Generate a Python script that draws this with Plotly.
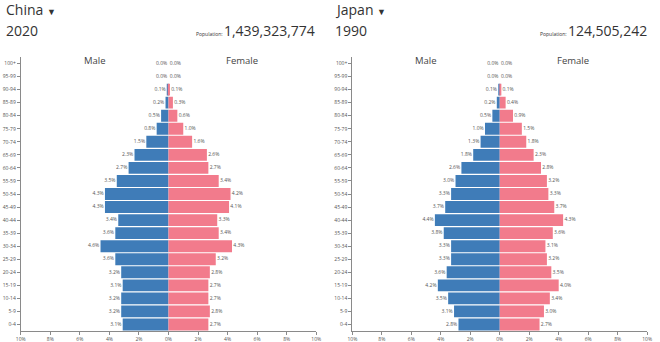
import plotly.graph_objects as go

# Age groups, youngest first (bottom of the pyramid)
age_groups = ["0-4", "5-9", "10-14", "15-19", "20-24", "25-29", "30-34", "35-39",
              "40-44", "45-49", "50-54", "55-59", "60-64", "65-69", "70-74",
              "75-79", "80-84", "85-89", "90-94", "95-99", "100+"]

# China 2020, share of total population (%)
china_male = [3.1, 3.2, 3.2, 3.1, 3.2, 3.6, 4.6, 3.6, 3.4, 4.3, 4.3, 3.5, 2.7, 2.3,
              1.5, 0.8, 0.5, 0.2, 0.1, 0.0, 0.0]
china_female = [2.7, 2.8, 2.7, 2.7, 2.8, 3.2, 4.3, 3.4, 3.3, 4.1, 4.2, 3.4, 2.7, 2.6,
                1.6, 1.0, 0.6, 0.3, 0.1, 0.0, 0.0]

# Japan 1990, share of total population (%)
japan_male = [2.8, 3.1, 3.5, 4.2, 3.6, 3.3, 3.3, 3.8, 4.4, 3.7, 3.3, 3.0, 2.6, 1.8,
              1.3, 1.0, 0.5, 0.2, 0.1, 0.0, 0.0]
japan_female = [2.7, 3.0, 3.4, 4.0, 3.5, 3.2, 3.1, 3.6, 4.3, 3.7, 3.3, 3.2, 2.8, 2.3,
                1.8, 1.5, 0.9, 0.4, 0.1, 0.0, 0.0]

panels = [
    {"country": "China", "year": "2020", "population": "1,439,323,774",
     "male": china_male, "female": china_female},
    {"country": "Japan", "year": "1990", "population": "124,505,242",
     "male": japan_male, "female": japan_female},
]

tick_vals = [-10, -8, -6, -4, -2, 0, 2, 4, 6, 8, 10]
tick_text = [f"{abs(v)}%" for v in tick_vals]

W, H = 660, 342
FONT = "Open Sans, Noto Sans, sans-serif"
TEXT = "#333333"
AXIS = "#8a8a8a"
MALE_C = "#3f7cb8"
FEMALE_C = "#f27b8c"
NBSP = "\u00a0"

# pixel placement of the two plot areas
x_domains = [(16 / W, 316 / W), (352.7 / W, 652 / W)]
y_domain = ((H - 331) / H, (H - 57) / H)


def py(px):
    return 1 - px / H


fig = go.Figure()
annotations = []

for i, p in enumerate(panels):
    xa = "x" if i == 0 else "x2"
    ya = "y" if i == 0 else "y2"
    neg_male = [-v for v in p["male"]]

    fig.add_trace(go.Bar(y=age_groups, x=neg_male, orientation="h",
                         marker=dict(color=MALE_C, line=dict(width=0)),
                         xaxis=xa, yaxis=ya, hoverinfo="skip"))
    fig.add_trace(go.Bar(y=age_groups, x=p["female"], orientation="h",
                         marker=dict(color=FEMALE_C, line=dict(width=0)),
                         xaxis=xa, yaxis=ya, hoverinfo="skip"))
    # value labels beside each bar end
    fig.add_trace(go.Scatter(y=age_groups, x=neg_male, mode="text",
                             text=[f"{v:.1f}%{NBSP}" for v in p["male"]],
                             textposition="middle left",
                             textfont=dict(size=5, color="#555555", family=FONT),
                             xaxis=xa, yaxis=ya, hoverinfo="skip"))
    fig.add_trace(go.Scatter(y=age_groups, x=p["female"], mode="text",
                             text=[f"{NBSP}{v:.1f}%" for v in p["female"]],
                             textposition="middle right",
                             textfont=dict(size=5, color="#555555", family=FONT),
                             xaxis=xa, yaxis=ya, hoverinfo="skip"))

    x_left = (-1 if i == 0 else 333) / W
    x_right = (317 if i == 0 else 654) / W
    annotations += [
        dict(text=f"{p['country']} <span style='font-size:9px'>▼</span>",
             xref="paper", yref="paper", x=x_left, y=py(10),
             xanchor="left", yanchor="middle", showarrow=False,
             font=dict(size=14, color=TEXT, family=FONT)),
        dict(text=p["year"], xref="paper", yref="paper", x=x_left, y=py(30),
             xanchor="left", yanchor="middle", showarrow=False,
             font=dict(size=14, color=TEXT, family=FONT)),
        dict(text=f"<span style='font-size:5px'>Population: </span>{p['population']}",
             xref="paper", yref="paper", x=x_right, y=py(30),
             xanchor="right", yanchor="middle", showarrow=False,
             font=dict(size=14, color=TEXT, family=FONT)),
        dict(text="Male", xref=xa, yref="paper", x=-5, y=py(61),
             xanchor="center", yanchor="middle", showarrow=False,
             font=dict(size=9.5, color="#444444", family=FONT)),
        dict(text="Female", xref=xa, yref="paper", x=5, y=py(61),
             xanchor="center", yanchor="middle", showarrow=False,
             font=dict(size=9.5, color="#444444", family=FONT)),
    ]

axis_common = dict(range=[-10, 10], tickvals=tick_vals, ticktext=tick_text,
                   showgrid=False, zeroline=False, showline=True, linecolor=AXIS,
                   linewidth=1, ticks="outside", ticklen=3, tickcolor=AXIS,
                   tickfont=dict(size=5, color="#555555", family=FONT),
                   fixedrange=True)
yaxis_common = dict(type="category", categoryorder="array", categoryarray=age_groups,
                    range=[-0.5, len(age_groups) - 0.5], autorange=False,
                    showgrid=False, zeroline=False, showline=True, linecolor=AXIS,
                    linewidth=1, ticks="outside", ticklen=3, tickcolor=AXIS,
                    tickfont=dict(size=5, color="#555555", family=FONT),
                    domain=list(y_domain), fixedrange=True)

fig.update_layout(
    width=W, height=H,
    margin=dict(l=0, r=0, t=0, b=0),
    paper_bgcolor="white", plot_bgcolor="white",
    barmode="overlay", bargap=0.09,
    showlegend=False,
    font=dict(family=FONT, color=TEXT),
    xaxis=dict(domain=list(x_domains[0]), anchor="y", **axis_common),
    xaxis2=dict(domain=list(x_domains[1]), anchor="y2", **axis_common),
    yaxis=dict(anchor="x", **yaxis_common),
    yaxis2=dict(anchor="x2", **yaxis_common),
    annotations=annotations,
)

fig.write_html("out.html", config={"displayModeBar": False})
